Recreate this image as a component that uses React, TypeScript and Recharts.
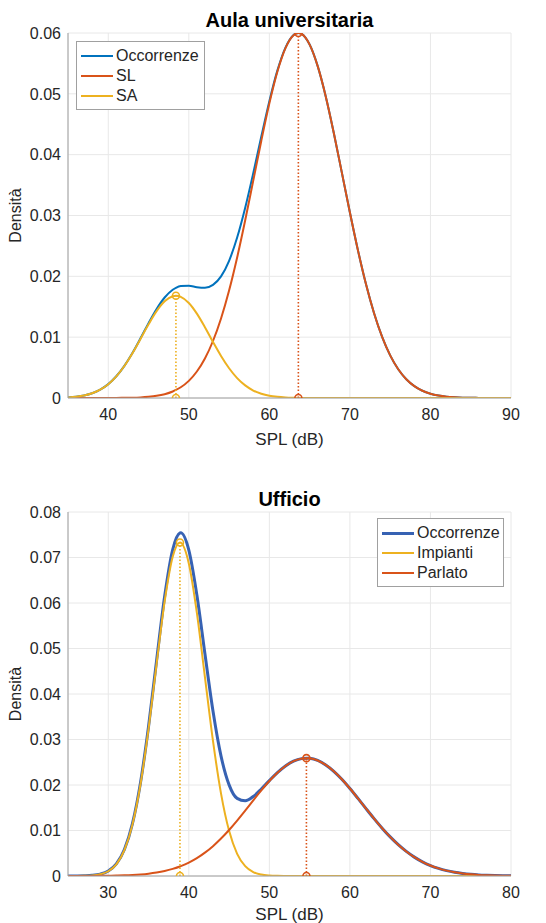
import React from 'react';
import { LineChart, Line, XAxis, YAxis, CartesianGrid } from 'recharts';

const FONT = '"Liberation Sans", Arial, Helvetica, sans-serif';
const BLUE = '#0072BD';
const BLUE_DARK = '#3762B3';
const ORANGE = '#D95319';
const YELLOW = '#EDB120';
const AXIS = '#A0A0A0';
const GRID = '#E8E8E8';
const TEXT = '#262626';

// Aula universitaria
const aulaSpl = [
  35, 36, 37, 38, 39, 40, 41, 42, 43, 44, 45, 46, 47, 48, 48.4, 49, 50, 51, 52, 53, 54, 55, 56, 57, 58, 59, 60,
  61, 62, 63, 63.6, 64, 65, 66, 67, 68, 69, 70, 71, 72, 73, 74, 75, 76, 77, 78, 79, 80, 81, 82, 83, 84, 85, 86,
  87, 88, 89, 90,
];
const aulaOccorrenze = [
  0.0001, 0.00022, 0.00042, 0.00078, 0.00137, 0.00228, 0.00357, 0.00529, 0.0074, 0.00981, 0.01231, 0.01463,
  0.01652, 0.01779, 0.01812, 0.0184, 0.01844, 0.01822, 0.01813, 0.01859, 0.01999, 0.02256, 0.02637, 0.03128,
  0.03696, 0.04299, 0.0488, 0.05385, 0.05761, 0.05968, 0.06002, 0.05986, 0.0581, 0.05455, 0.04957, 0.04357,
  0.03705, 0.03049, 0.02427, 0.01869, 0.01393, 0.01004, 0.007, 0.00472, 0.00308, 0.00195, 0.00119, 0.0007,
  0.0004, 0.00022, 0.00012, 0.00006, 0.00003, 0.00002, 0.00001, 0, 0, 0,
];
const aulaSL = [
  0, 0, 0, 0, 0, 0.00001, 0.00001, 0.00003, 0.00005, 0.0001, 0.0002, 0.00036, 0.00063, 0.00107, 0.00132,
  0.00177, 0.00282, 0.00435, 0.00649, 0.00937, 0.01308, 0.01767, 0.0231, 0.02921, 0.03573, 0.04229, 0.04843,
  0.05366, 0.05752, 0.05964, 0.06, 0.05984, 0.05809, 0.05455, 0.04957, 0.04357, 0.03705, 0.03049, 0.02427,
  0.01869, 0.01393, 0.01004, 0.007, 0.00472, 0.00308, 0.00195, 0.00119, 0.0007, 0.0004, 0.00022, 0.00012,
  0.00006, 0.00003, 0.00002, 0.00001, 0, 0, 0,
];
const aulaSA = [
  0.0001, 0.00022, 0.00042, 0.00078, 0.00137, 0.00227, 0.00356, 0.00526, 0.00735, 0.00971, 0.01211, 0.01427,
  0.01589, 0.01672, 0.0168, 0.01663, 0.01562, 0.01387, 0.01164, 0.00922, 0.00691, 0.00489, 0.00327, 0.00207,
  0.00123, 0.0007, 0.00037, 0.00019, 0.00009, 0.00004, 0.00002, 0.00002, 0.00001, 0, 0, 0, 0, 0, 0, 0, 0, 0,
  0, 0, 0, 0, 0, 0, 0, 0, 0, 0, 0, 0, 0, 0, 0, 0,
];
const aulaPeakSpl = [48.4, 63.6];
const aulaPeakDensity = [0.0168, 0.06];
const aulaXTicks = [40, 50, 60, 70, 80, 90];
const aulaYTicks = [0, 0.01, 0.02, 0.03, 0.04, 0.05, 0.06];

// Ufficio
const uffSpl = [
  25, 26, 27, 28, 29, 30, 31, 32, 33, 34, 35, 36, 37, 38, 38.9, 39, 40, 41, 42, 43, 44, 45, 46, 47, 48, 49, 50,
  51, 52, 53, 54, 54.6, 55, 56, 57, 58, 59, 60, 61, 62, 63, 64, 65, 66, 67, 68, 69, 70, 71, 72, 73, 74, 75, 76,
  77, 78, 79, 80,
];
const uffOccorrenze = [
  0.00001, 0.00002, 0.00005, 0.00014, 0.00041, 0.00109, 0.00265, 0.00581, 0.01151, 0.02051, 0.03287, 0.0474,
  0.06147, 0.07174, 0.07539, 0.07542, 0.07162, 0.06175, 0.04886, 0.03626, 0.02634, 0.02003, 0.01706, 0.01653,
  0.01747, 0.01912, 0.02097, 0.02272, 0.02418, 0.02523, 0.0258, 0.0259, 0.02586, 0.02539, 0.02442, 0.02302,
  0.02126, 0.01923, 0.01705, 0.01481, 0.01261, 0.01051, 0.00859, 0.00688, 0.0054, 0.00415, 0.00312, 0.0023,
  0.00167, 0.00118, 0.00082, 0.00056, 0.00037, 0.00024, 0.00016, 0.0001, 0.00006, 0.00004,
];
const uffImpianti = [
  0, 0.00001, 0.00004, 0.00012, 0.00038, 0.00104, 0.00256, 0.00567, 0.01129, 0.02017, 0.03236, 0.04664,
  0.06037, 0.07018, 0.0733, 0.07326, 0.06868, 0.05783, 0.04373, 0.0297, 0.01811, 0.00992, 0.00488, 0.00216,
  0.00086, 0.00031, 0.0001, 0.00003, 0.00001, 0, 0, 0, 0, 0, 0, 0, 0, 0, 0, 0, 0, 0, 0, 0, 0, 0, 0, 0, 0, 0,
  0, 0, 0, 0, 0, 0, 0, 0,
];
const uffParlato = [
  0, 0.00001, 0.00001, 0.00002, 0.00003, 0.00005, 0.00009, 0.00014, 0.00022, 0.00034, 0.00051, 0.00076,
  0.0011, 0.00156, 0.00209, 0.00216, 0.00294, 0.00392, 0.00513, 0.00656, 0.00823, 0.01011, 0.01218, 0.01437,
  0.01661, 0.01881, 0.02087, 0.02269, 0.02417, 0.02523, 0.0258, 0.0259, 0.02586, 0.02539, 0.02442, 0.02302,
  0.02126, 0.01923, 0.01705, 0.01481, 0.01261, 0.01051, 0.00859, 0.00688, 0.0054, 0.00415, 0.00312, 0.0023,
  0.00167, 0.00118, 0.00082, 0.00056, 0.00037, 0.00024, 0.00016, 0.0001, 0.00006, 0.00004,
];
const uffPeakSpl = [38.9, 54.6];
const uffPeakDensity = [0.0733, 0.0259];
const uffXTicks = [30, 40, 50, 60, 70, 80];
const uffYTicks = [0, 0.01, 0.02, 0.03, 0.04, 0.05, 0.06, 0.07, 0.08];

type Series = { name: string; values: number[]; color: string; width: number };

interface PanelProps {
  title: string;
  top: number;
  height: number;
  axisHeight: number;
  marginBottom: number;
  spl: number[];
  series: Series[];
  peakSpl: number[];
  peakDensity: number[];
  peakColors: string[];
  xDomain: [number, number];
  xTicks: number[];
  yMax: number;
  yTicks: number[];
  legendLeft: number;
  legendTop: number;
  legendWidth: number;
}

const fmtY = (v: number) => (v === 0 ? '0' : v.toFixed(2));

const Panel: React.FC<PanelProps> = (p) => {
  const rows = p.spl.map((x, i) => {
    const row: Record<string, number> = { x };
    p.series.forEach((s, k) => {
      row[`s${k}`] = s.values[i];
    });
    return row;
  });

  const yLabel = (props: any) => {
    const vb = props.viewBox;
    const cy = vb.y + vb.height / 2;
    const cx = 15;
    return (
      <text
        x={cx}
        y={cy}
        transform={`rotate(-90 ${cx} ${cy})`}
        textAnchor="middle"
        dominantBaseline="central"
        fill={TEXT}
        fontSize={16}
        fontFamily={FONT}
      >
        Densità
      </text>
    );
  };

  return (
    <div style={{ position: 'absolute', left: 0, top: p.top, width: 546, height: p.height }}>
      <div
        style={{
          position: 'absolute',
          left: 68,
          width: 443,
          top: 8,
          textAlign: 'center',
          fontFamily: FONT,
          fontWeight: 'bold',
          fontSize: 20,
          lineHeight: '24px',
          color: '#000',
        }}
      >
        {p.title}
      </div>
      <LineChart
        width={546}
        height={p.height}
        data={rows}
        margin={{ top: 33, right: 35, left: 0, bottom: p.marginBottom }}
      >
        <CartesianGrid stroke={GRID} strokeWidth={1} />
        <XAxis
          dataKey="x"
          type="number"
          domain={p.xDomain}
          ticks={p.xTicks}
          allowDataOverflow
          height={p.axisHeight}
          stroke={AXIS}
          tickLine={false}
          tickSize={6}
          tickMargin={5}
          tick={{ fill: TEXT, fontSize: 16, fontFamily: FONT }}
          label={{ value: 'SPL (dB)', position: 'insideBottom', offset: 3, fill: TEXT, fontSize: 17, fontFamily: FONT }}
        />
        <XAxis
          xAxisId="top"
          orientation="top"
          dataKey="x"
          type="number"
          domain={p.xDomain}
          height={0}
          stroke={AXIS}
          tick={false}
          tickLine={false}
        />
        <YAxis
          type="number"
          domain={[0, p.yMax]}
          ticks={p.yTicks}
          allowDataOverflow
          width={68}
          stroke={AXIS}
          tickLine={false}
          tickSize={4}
          tickMargin={3}
          tickFormatter={fmtY}
          tick={{ fill: TEXT, fontSize: 16, fontFamily: FONT }}
          label={{ content: yLabel }}
        />
        <YAxis
          yAxisId="right"
          orientation="right"
          type="number"
          domain={[0, p.yMax]}
          width={0}
          stroke={AXIS}
          tick={false}
          tickLine={false}
        />
        {p.series.map((s, k) => (
          <Line
            key={s.name}
            type="monotone"
            dataKey={`s${k}`}
            name={s.name}
            stroke={s.color}
            strokeWidth={s.width}
            dot={false}
            activeDot={false}
            isAnimationActive={false}
          />
        ))}
        {p.peakSpl.map((x, k) => (
          <Line
            key={`peak-${k}`}
            data={[
              { x, y: 0 },
              { x, y: p.peakDensity[k] },
            ]}
            type="linear"
            dataKey="y"
            stroke={p.peakColors[k]}
            strokeWidth={1.6}
            strokeDasharray="1.5 2"
            dot={{ r: 3.5, fill: 'none', stroke: p.peakColors[k], strokeWidth: 1.6, strokeDasharray: '' }}
            activeDot={false}
            legendType="none"
            isAnimationActive={false}
          />
        ))}
      </LineChart>
      <div
        style={{
          position: 'absolute',
          left: p.legendLeft,
          top: p.legendTop,
          width: p.legendWidth,
          border: `1px solid ${AXIS}`,
          background: '#fff',
          padding: '4px 0 3px 0',
          fontFamily: FONT,
          fontSize: 16,
          color: TEXT,
        }}
      >
        {p.series.map((s) => (
          <div key={s.name} style={{ display: 'flex', alignItems: 'center', height: 20 }}>
            <span
              style={{
                display: 'inline-block',
                width: 32,
                height: s.width,
                background: s.color,
                marginLeft: 4,
                marginRight: 3,
              }}
            />
            <span>{s.name}</span>
          </div>
        ))}
      </div>
    </div>
  );
};

const App: React.FC = () => (
  <div style={{ position: 'absolute', left: 0, top: 0, width: 546, height: 923, overflow: 'hidden', background: '#fff' }}>
    <Panel
      title="Aula universitaria"
      top={0}
      height={460}
      axisHeight={50}
      marginBottom={12}
      spl={aulaSpl}
      series={[
        { name: 'Occorrenze', values: aulaOccorrenze, color: BLUE, width: 2 },
        { name: 'SL', values: aulaSL, color: ORANGE, width: 2 },
        { name: 'SA', values: aulaSA, color: YELLOW, width: 2 },
      ]}
      peakSpl={aulaPeakSpl}
      peakDensity={aulaPeakDensity}
      peakColors={[YELLOW, ORANGE]}
      xDomain={[35, 90]}
      xTicks={aulaXTicks}
      yMax={0.06}
      yTicks={aulaYTicks}
      legendLeft={76}
      legendTop={41}
      legendWidth={127}
    />
    <Panel
      title="Ufficio"
      top={479}
      height={444}
      axisHeight={47}
      marginBottom={0}
      spl={uffSpl}
      series={[
        { name: 'Occorrenze', values: uffOccorrenze, color: BLUE_DARK, width: 3 },
        { name: 'Impianti', values: uffImpianti, color: YELLOW, width: 2 },
        { name: 'Parlato', values: uffParlato, color: ORANGE, width: 2 },
      ]}
      peakSpl={uffPeakSpl}
      peakDensity={uffPeakDensity}
      peakColors={[YELLOW, ORANGE]}
      xDomain={[25, 80]}
      xTicks={uffXTicks}
      yMax={0.08}
      yTicks={uffYTicks}
      legendLeft={377}
      legendTop={39}
      legendWidth={125}
    />
  </div>
);

export default App;
